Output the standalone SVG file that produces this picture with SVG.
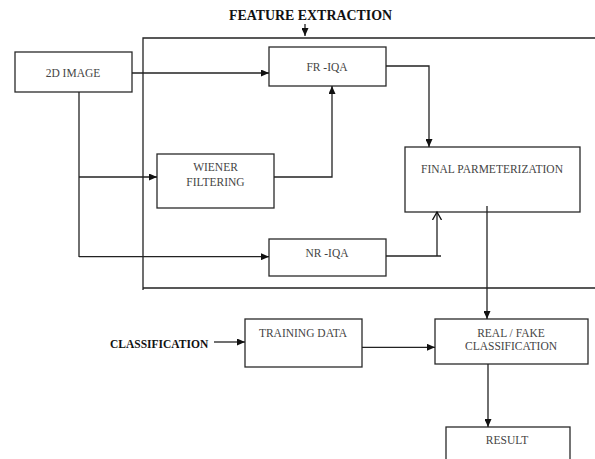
<svg xmlns="http://www.w3.org/2000/svg" width="595" height="459" viewBox="0 0 595 459">
<defs>
<style>
.box{fill:#fff;stroke:#2a2a2a;stroke-width:1.3}
.ln{fill:none;stroke:#222;stroke-width:1.3}
.t{font-family:"Liberation Serif","Times New Roman",serif;font-size:11.5px;fill:#444;text-anchor:middle}
.b{font-family:"Liberation Serif","Times New Roman",serif;font-weight:bold;fill:#111}
</style>
<marker id="ah" markerWidth="8" markerHeight="7" refX="8" refY="3.5" orient="auto" markerUnits="userSpaceOnUse">
<path d="M0,0 L8,3.5 L0,7 Z" fill="#111"/>
</marker>
<marker id="oh" markerWidth="10" markerHeight="10" refX="8" refY="5" orient="auto" markerUnits="userSpaceOnUse">
<path d="M0,0.5 L8,5 L0,9.5" fill="none" stroke="#111" stroke-width="1.3"/>
</marker>
</defs>
<rect width="595" height="459" fill="#fff"/>
<g id="labels">
<text class="b" x="229" y="20" font-size="13.9px">FEATURE EXTRACTION</text>
<text class="b" x="110" y="348" font-size="11.5px">CLASSIFICATION</text>
</g>
<g id="frame">
<path class="ln" d="M595,38 H143 V290 M143,288 H595"/>
</g>
<g id="n-2d"><rect class="box" x="15" y="52" width="117" height="40"/><text class="t" x="73" y="77">2D IMAGE</text></g>
<g id="n-fr"><rect class="box" x="269" y="47" width="117" height="39"/><text class="t" x="327" y="71">FR -IQA</text></g>
<g id="n-wiener"><rect class="box" x="157" y="154" width="117" height="54"/><text class="t" x="215.5" y="171">WIENER</text><text class="t" x="215.5" y="185.5">FILTERING</text></g>
<g id="n-nr"><rect class="box" x="269" y="239" width="117" height="37"/><text class="t" x="327" y="256.5">NR -IQA</text></g>
<g id="n-final"><rect class="box" x="405" y="147" width="175" height="65"/><text class="t" x="492" y="172.5">FINAL PARMETERIZATION</text></g>
<g id="n-train"><rect class="box" x="245" y="319" width="117" height="48"/><text class="t" x="303" y="337">TRAINING DATA</text></g>
<g id="n-real"><rect class="box" x="435" y="319" width="153" height="45"/><text class="t" x="511" y="336.5">REAL / FAKE</text><text class="t" x="511" y="350">CLASSIFICATION</text></g>
<g id="n-result"><rect class="box" x="446" y="427" width="124" height="45"/><text class="t" x="507" y="444">RESULT</text></g>
<g id="connectors">
<path class="ln" d="M305,24 V36" marker-end="url(#ah)"/>
<path class="ln" d="M132,73 H269" marker-end="url(#ah)"/>
<path class="ln" d="M79,92 V257"/>
<path class="ln" d="M79,177 H157" marker-end="url(#ah)"/>
<path class="ln" d="M79,256.7 H269" marker-end="url(#ah)"/>
<path class="ln" d="M274,177 H332 V86" marker-end="url(#ah)"/>
<path class="ln" d="M386,66 H429 V147" marker-end="url(#ah)"/>
<path class="ln" d="M386,256 H441"/>
<path class="ln" d="M437,256 V212" marker-end="url(#oh)"/>
<path class="ln" d="M487,206 V319" marker-end="url(#ah)"/>
<path class="ln" d="M362,347.3 H435" marker-end="url(#ah)"/>
<path class="ln" d="M214,342 H245" marker-end="url(#ah)"/>
<path class="ln" d="M488,364 V427" marker-end="url(#ah)"/>
</g>
</svg>
